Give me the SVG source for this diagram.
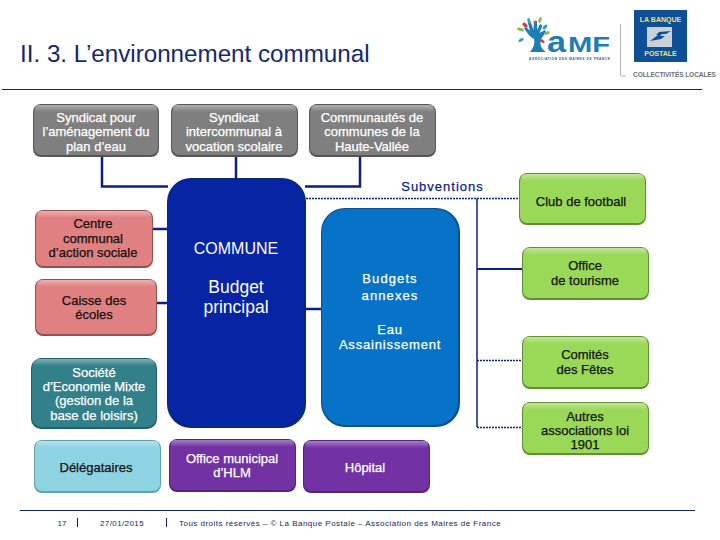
<svg xmlns="http://www.w3.org/2000/svg" width="720" height="540" viewBox="0 0 720 540">
<style>
text{font-family:"Liberation Sans",Arial,sans-serif;text-anchor:middle}
.t{font-size:13px;stroke-width:.25px}
.w{fill:#fff;stroke:#fff}
.k{fill:#111;stroke:#111}
.c{fill:none;stroke:#0b1f87;stroke-width:2.5}
.d{fill:none;stroke:#0b1f87;stroke-width:1.5;stroke-dasharray:2 1}
.n{fill:none;stroke:#0b1f87;stroke-width:1.5}
.hl{fill:url(#shine)}
.rule{stroke:#14265c;stroke-width:1.2}
.lg{text-anchor:start}
.big{font-size:17.5px;fill:#fff}
</style>
<defs>
<linearGradient id="shine" x1="0" y1="0" x2="0" y2="1"><stop offset="0" stop-color="#fff" stop-opacity=".38"/><stop offset="1" stop-color="#fff" stop-opacity="0"/></linearGradient>
</defs>
<rect width="720" height="540" fill="#fff"/>

<g id="title">
<text x="20" y="62" style="text-anchor:start;font-size:24.200px;fill:#14286e">II. 3. L’environnement communal</text>
<line class="rule" x1="2" y1="89.500" x2="702" y2="89.500"/>
</g>

<g id="logo-amf">
<path d="M530 52 C534 47 535 43 534 39 C530 37 527 33 524 28 L526.500 27 L530 31 L528 23 L531 22.500 L533.500 30 L534 21 L537 21 L537 30 L540 24 L542.500 25.500 L539.500 33 L545 30 L546 32.500 C542 37 540 40 540.500 44 C541 48 543 50 546 52 Z" fill="#1b7fb5"/>
<g>
<ellipse cx="525" cy="25" rx="3" ry="1.800" transform="rotate(45 525 25)" fill="#d9383a"/>
<ellipse cx="529" cy="21" rx="3" ry="1.500" transform="rotate(70 529 21)" fill="#2e9fb5"/>
<ellipse cx="535" cy="22" rx="1.500" ry="1.500" fill="#e0463c"/>
<ellipse cx="540" cy="20" rx="3" ry="1.500" transform="rotate(-70 540 20)" fill="#8cb84a"/>
<ellipse cx="545" cy="27" rx="3" ry="1.600" transform="rotate(-50 545 27)" fill="#2e9fb5"/>
<ellipse cx="520.500" cy="29.500" rx="3.500" ry="1.600" transform="rotate(15 520.500 29.500)" fill="#8cb84a"/>
<ellipse cx="547" cy="33" rx="3" ry="1.500" transform="rotate(-15 547 33)" fill="#8cb84a"/>
<ellipse cx="521" cy="40" rx="3" ry="1.500" transform="rotate(-30 521 40)" fill="#2e9fb5"/>
<ellipse cx="542" cy="41" rx="3" ry="1.500" transform="rotate(30 542 41)" fill="#d9383a"/>
</g>
<text class="lg" x="547" y="52" style="font-size:29px;font-weight:700;fill:#1b7fb5" textLength="19" lengthAdjust="spacingAndGlyphs">a</text>
<text class="lg" x="568" y="52" style="font-size:22px;font-weight:700;fill:#1b7fb5" textLength="42" lengthAdjust="spacingAndGlyphs">MF</text>
<text class="lg" x="529" y="60" style="font-size:3.200px;font-weight:700;fill:#33508f" textLength="81">ASSOCIATION DES MAIRES DE FRANCE</text>
</g>
<g id="logo-lbp">
<path d="M620.500 24V76H626" fill="none" stroke="#b5b5b5" stroke-width="1"/>
<rect x="634" y="10" width="53" height="52" fill="#0f4f98"/>
<rect x="647" y="27" width="25" height="20" fill="#c9d0d6"/>
<path d="M650 41l8-6h-2l3-3 12-1-5 3h-4l-2 2h5l-4 3z" fill="#0f4f98"/>
<text x="660.500" y="22" style="font-size:7px;font-weight:700;fill:#f3e26a">LA BANQUE</text>
<text x="660.500" y="56" style="font-size:7px;font-weight:700;fill:#f3e26a">POSTALE</text>
<text class="lg" x="633" y="77" style="font-size:6.600px;font-weight:700;fill:#6f6f6f" textLength="83">COLLECTIVITÉS LOCALES</text>
</g>

<g id="connectors">
<path class="c" d="M102 156V186.500H168"/>
<path class="c" d="M236 156V178"/>
<path class="c" d="M360 156V186.500H305"/>
<path class="c" d="M153 229H168"/>
<path class="c" d="M157 303H168"/>
<path class="c" d="M306 309H321"/>
<path class="d" d="M306 198.500H519"/>
<path class="n" d="M477 198.500V427"/>
<path class="c" style="stroke-width:2" d="M477 269H522"/>
<path class="d" d="M477 360.500H522"/>
<path class="d" d="M477 427.500H522"/>
</g>

<g id="commune">
<rect x="167" y="178" width="139" height="250" rx="24" fill="#0a2a6e"/>
<rect x="168" y="179" width="136" height="247" rx="23" fill="#0624a4"/>
<text x="236" y="254" style="font-size:16px;fill:#fff">COMMUNE</text>
<text class="big" x="236" y="293">Budget</text>
<text class="big" x="236" y="313">principal</text>
</g>
<g id="budgets-annexes">
<rect x="321" y="208" width="139" height="219" rx="24" fill="#0c4f8c"/>
<rect x="322" y="209" width="136" height="216" rx="23" fill="#0672c8"/>
<g class="t">
<text class="w" x="390" y="283" style="letter-spacing:1.100px">Budgets</text>
<text class="w" x="390" y="300" style="letter-spacing:1.100px">annexes</text>
<text class="w" x="390" y="334" style="letter-spacing:.8px">Eau</text>
<text class="w" x="390" y="349" style="letter-spacing:.8px">Assainissement</text>
</g>
</g>

<g id="syndicat-plan-eau">
<rect x="33" y="104" width="126" height="53" rx="8" fill="#555"/>
<rect x="34" y="105" width="124" height="50" rx="7" fill="#7f7f7f"/>
<rect class="hl" x="35" y="105" width="122" height="7" rx="3"/>
<g class="t"><text class="w" x="96" y="122">Syndicat pour</text><text class="w" x="96" y="136">l’aménagement du</text><text class="w" x="96" y="151">plan d’eau</text></g>
</g>
<g id="syndicat-scolaire">
<rect x="171" y="104" width="127" height="53" rx="8" fill="#555"/>
<rect x="172" y="105" width="125" height="50" rx="7" fill="#7f7f7f"/>
<rect class="hl" x="173" y="105" width="123" height="7" rx="3"/>
<g class="t"><text class="w" x="234" y="122">Syndicat</text><text class="w" x="234" y="136">intercommunal à</text><text class="w" x="234" y="151">vocation scolaire</text></g>
</g>
<g id="communautes">
<rect x="309" y="104" width="127" height="53" rx="8" fill="#555"/>
<rect x="310" y="105" width="125" height="50" rx="7" fill="#7f7f7f"/>
<rect class="hl" x="311" y="105" width="123" height="7" rx="3"/>
<g class="t"><text class="w" x="372" y="122">Communautés de</text><text class="w" x="372" y="136">communes de la</text><text class="w" x="372" y="151">Haute-Vallée</text></g>
</g>

<g id="subventions"><text x="442.500" y="191" style="font-size:13px;fill:#0b1f87;stroke:#0b1f87;stroke-width:.25px;letter-spacing:1px">Subventions</text></g>

<g id="ccas">
<rect x="35" y="210" width="118" height="58" rx="8" fill="#8f5250"/>
<rect x="36" y="211" width="116" height="55" rx="7" fill="#e08080"/>
<rect class="hl" x="37" y="211" width="114" height="7" rx="3"/>
<g class="t"><text class="k" x="93" y="228">Centre</text><text class="k" x="93" y="243">communal</text><text class="k" x="93" y="257">d’action sociale</text></g>
</g>
<g id="caisse-ecoles">
<rect x="35" y="279" width="122" height="57" rx="8" fill="#8f5250"/>
<rect x="36" y="280" width="120" height="54" rx="7" fill="#e08080"/>
<rect class="hl" x="37" y="280" width="118" height="7" rx="3"/>
<g class="t"><text class="k" x="94" y="305">Caisse des</text><text class="k" x="94" y="319">écoles</text></g>
</g>
<g id="sem">
<rect x="31" y="358" width="126" height="71" rx="10" fill="#255f68"/>
<rect x="32" y="359" width="124" height="68" rx="9" fill="#32808a"/>
<rect class="hl" x="33" y="359" width="122" height="7" rx="3"/>
<g class="t"><text class="w" x="94" y="377">Société</text><text class="w" x="94" y="391">d’Economie Mixte</text><text class="w" x="94" y="405">(gestion de la</text><text class="w" x="94" y="420">base de loisirs)</text></g>
</g>
<g id="delegataires">
<rect x="34" y="440" width="127" height="53" rx="8" fill="#62a0ae"/>
<rect x="35" y="441" width="125" height="50" rx="7" fill="#8dd3e2"/>
<rect class="hl" x="36" y="441" width="123" height="7" rx="3"/>
<text class="t k" x="96" y="472">Délégataires</text>
</g>
<g id="hlm">
<rect x="169" y="439" width="127" height="53" rx="8" fill="#4f2580"/>
<rect x="170" y="440" width="125" height="50" rx="7" fill="#7232a4"/>
<rect class="hl" x="171" y="440" width="123" height="7" rx="3"/>
<g class="t"><text class="w" x="232" y="463">Office municipal</text><text class="w" x="232" y="477">d’HLM</text></g>
</g>
<g id="hopital">
<rect x="303" y="440" width="127" height="53" rx="8" fill="#4f2580"/>
<rect x="304" y="441" width="125" height="50" rx="7" fill="#7232a4"/>
<rect class="hl" x="305" y="441" width="123" height="7" rx="3"/>
<text class="t w" x="365" y="472">Hôpital</text>
</g>

<g id="club-football">
<rect x="519" y="173" width="127" height="52" rx="8" fill="#628f36"/>
<rect x="520" y="174" width="125" height="49" rx="7" fill="#9ad858"/>
<rect class="hl" x="521" y="174" width="123" height="7" rx="3"/>
<text class="t k" x="581" y="206">Club de football</text>
</g>
<g id="office-tourisme">
<rect x="522" y="247" width="127" height="53" rx="8" fill="#628f36"/>
<rect x="523" y="248" width="125" height="50" rx="7" fill="#9ad858"/>
<rect class="hl" x="524" y="248" width="123" height="7" rx="3"/>
<g class="t"><text class="k" x="585" y="270">Office</text><text class="k" x="585" y="285">de tourisme</text></g>
</g>
<g id="comites-fetes">
<rect x="522" y="336" width="127" height="53" rx="8" fill="#628f36"/>
<rect x="523" y="337" width="125" height="50" rx="7" fill="#9ad858"/>
<rect class="hl" x="524" y="337" width="123" height="7" rx="3"/>
<g class="t"><text class="k" x="585" y="359">Comités</text><text class="k" x="585" y="374">des Fêtes</text></g>
</g>
<g id="autres-associations">
<rect x="522" y="402" width="127" height="53" rx="8" fill="#628f36"/>
<rect x="523" y="403" width="125" height="50" rx="7" fill="#9ad858"/>
<rect class="hl" x="524" y="403" width="123" height="7" rx="3"/>
<g class="t"><text class="k" x="585" y="421">Autres</text><text class="k" x="585" y="435">associations loi</text><text class="k" x="585" y="449">1901</text></g>
</g>

<g id="footer">
<line class="rule" x1="20" y1="510.500" x2="695" y2="510.500"/>
<g style="font-size:8px;fill:#14265c">
<text x="62" y="526">17</text>
<text x="122" y="526" style="letter-spacing:.4px">27/01/2015</text>
<text class="lg" x="179" y="526" style="letter-spacing:.48px">Tous droits réservés – © La Banque Postale – Association des Maires de France</text>
</g>
<line x1="77.500" y1="518" x2="77.500" y2="527" stroke="#14265c"/>
<line x1="166.500" y1="518" x2="166.500" y2="527" stroke="#14265c"/>
</g>
</svg>
